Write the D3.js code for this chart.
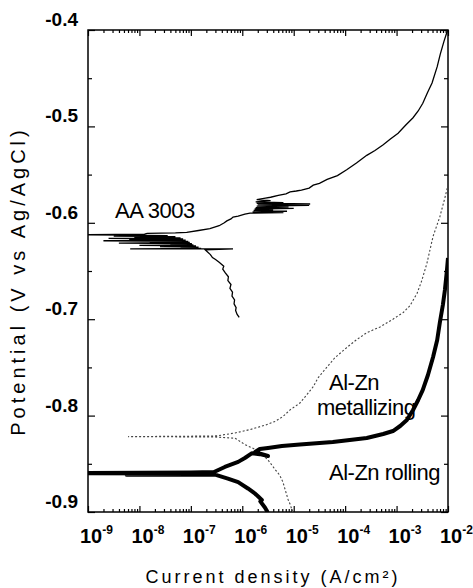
<!DOCTYPE html>
<html>
<head>
<meta charset="utf-8">
<script src="https://cdn.jsdelivr.net/npm/d3@7"></script>
<style>
  body { margin: 0; background: #fff; }
  text { font-family: "Liberation Sans", Arial, sans-serif; fill: #000; }
</style>
</head>
<body>
<div id="chart"></div>
<script>
// log10 of current density (A/cm2) and potential (V vs Ag/AgCl)
const aa3003 = [
  [-6.06, -0.698], [-6.10, -0.695], [-6.13, -0.691], [-6.12, -0.688], [-6.16, -0.684],
  [-6.15, -0.680], [-6.20, -0.676], [-6.19, -0.672], [-6.24, -0.668], [-6.22, -0.664],
  [-6.28, -0.660], [-6.27, -0.656], [-6.33, -0.652], [-6.38, -0.648], [-6.36, -0.645],
  [-6.45, -0.641], [-6.52, -0.638], [-6.58, -0.636], [-6.62, -0.633], [-6.68, -0.630],
  [-6.72, -0.628], [-6.18, -0.627], [-8.18, -0.627], [-6.80, -0.6265],
  [-7.20, -0.6258], [-6.85, -0.6252], [-7.60, -0.6246], [-6.90, -0.6240], [-8.00, -0.6234],
  [-6.95, -0.6228], [-7.40, -0.6222], [-6.98, -0.6216], [-8.40, -0.6210], [-7.02, -0.6204],
  [-7.80, -0.6198], [-7.05, -0.6192], [-8.70, -0.6186], [-7.10, -0.6180], [-8.20, -0.6174],
  [-7.15, -0.6168], [-8.60, -0.6162], [-7.20, -0.6156], [-8.10, -0.6150], [-7.30, -0.6144],
  [-8.50, -0.6138], [-7.45, -0.6132], [-8.30, -0.6128],
  [-9.50, -0.6125], [-7.90, -0.6118], [-7.85, -0.611], [-7.30, -0.6105], [-7.08, -0.610],
  [-6.85, -0.608], [-6.63, -0.606], [-6.45, -0.603], [-6.35, -0.600], [-6.30, -0.598],
  [-6.22, -0.596], [-6.18, -0.594], [-6.08, -0.593], [-5.95, -0.591],
  [-5.85, -0.5900], [-5.20, -0.5895], [-5.80, -0.5888], [-5.13, -0.5880], [-5.78, -0.5872],
  [-5.40, -0.5865], [-5.76, -0.5857], [-5.00, -0.5850], [-5.74, -0.5842], [-5.10, -0.5835],
  [-5.72, -0.5827], [-4.70, -0.5820], [-5.70, -0.5812], [-4.68, -0.5805], [-5.72, -0.5797],
  [-5.20, -0.5790], [-5.74, -0.5782], [-5.45, -0.5770], [-5.72, -0.5760], [-5.55, -0.5745],
  [-5.45, -0.5735], [-5.30, -0.5715], [-5.15, -0.570], [-5.07, -0.568], [-4.95, -0.567],
  [-4.85, -0.566], [-4.70, -0.564], [-4.62, -0.561], [-4.50, -0.559], [-4.35, -0.555],
  [-4.15, -0.551], [-3.97, -0.545], [-3.78, -0.538], [-3.58, -0.530], [-3.42, -0.525],
  [-3.26, -0.519], [-3.12, -0.513], [-2.97, -0.507], [-2.83, -0.499], [-2.68, -0.491],
  [-2.58, -0.484], [-2.49, -0.476], [-2.40, -0.465], [-2.31, -0.455], [-2.21, -0.438],
  [-2.15, -0.425], [-2.08, -0.412], [-2.02, -0.402], [-1.99, -0.398]
];

const alZnMetallizing = [
  [-5.02, -0.900], [-5.07, -0.892], [-5.11, -0.887], [-5.16, -0.878], [-5.21, -0.869],
  [-5.27, -0.862], [-5.36, -0.856], [-5.43, -0.851], [-5.50, -0.846], [-5.62, -0.840],
  [-5.75, -0.835], [-5.95, -0.830], [-6.14, -0.8235], [-6.53, -0.8222], [-8.22, -0.8218],
  [-6.60, -0.8212], [-6.49, -0.821], [-6.14, -0.818], [-5.85, -0.8145], [-5.56, -0.810],
  [-5.36, -0.806], [-5.21, -0.801], [-5.07, -0.794], [-4.88, -0.787], [-4.74, -0.778],
  [-4.62, -0.770], [-4.53, -0.761], [-4.39, -0.752], [-4.20, -0.740], [-3.96, -0.729],
  [-3.77, -0.721], [-3.58, -0.714], [-3.32, -0.708], [-3.07, -0.700], [-2.87, -0.693],
  [-2.74, -0.686], [-2.60, -0.673], [-2.51, -0.660], [-2.41, -0.642], [-2.29, -0.614],
  [-2.16, -0.594], [-2.06, -0.574], [-2.00, -0.561]
];

const alZnRolling = [
  [-5.50, -0.902], [-5.52, -0.899], [-5.56, -0.8953], [-5.60, -0.8925], [-5.65, -0.889],
  [-5.62, -0.8875], [-5.69, -0.884], [-5.75, -0.881], [-5.89, -0.8756], [-6.08, -0.869],
  [-6.28, -0.8653], [-6.53, -0.8613], [-8.25, -0.8614], [-6.90, -0.8606], [-8.25, -0.8604],
  [-6.90, -0.8600], [-9.50, -0.8596],
  [-7.00, -0.8590], [-6.55, -0.8585], [-6.34, -0.8533], [-6.08, -0.848], [-5.95, -0.844],
  [-5.81, -0.839], [-5.66, -0.840], [-5.50, -0.8419], [-5.75, -0.8378], [-5.66, -0.8347],
  [-5.50, -0.8336], [-5.23, -0.8315], [-4.88, -0.830], [-4.24, -0.8274], [-3.58, -0.8232],
  [-3.26, -0.8191], [-3.07, -0.816], [-2.93, -0.8108], [-2.80, -0.8046], [-2.68, -0.7942],
  [-2.58, -0.7838], [-2.49, -0.7734], [-2.39, -0.7579], [-2.29, -0.7392], [-2.21, -0.7216],
  [-2.16, -0.704], [-2.10, -0.6853], [-2.06, -0.6697], [-2.02, -0.649], [-2.00, -0.6365]
];

const xExponents = [-9, -8, -7, -6, -5, -4, -3, -2];
const yMajor = [-0.4, -0.5, -0.6, -0.7, -0.8, -0.9];
const yLabels = ['-0.4', '-0.5', '-0.6', '-0.7', '-0.8', '-0.9'];
const yMinor = [-0.45, -0.55, -0.65, -0.75, -0.85];

const width = 473, height = 588;
const plotLeft = 88, plotRight = 448, plotTop = 30, plotBottom = 512;

const svg = d3.select('#chart').append('svg')
  .attr('width', width)
  .attr('height', height);

const x = d3.scaleLog().domain([1e-9, 1e-2]).range([plotLeft, plotRight]);
const y = d3.scaleLinear().domain([-0.9, -0.4]).range([plotBottom, plotTop]);

svg.append('clipPath').attr('id', 'plot-clip')
  .append('rect')
  .attr('x', plotLeft).attr('y', plotTop)
  .attr('width', plotRight - plotLeft).attr('height', plotBottom - plotTop);

// ticks, all pointing inward
const allX = x.ticks();
const majorX = allX.filter(d => Math.abs(Math.log10(d) - Math.round(Math.log10(d))) < 1e-6);
const minorX = allX.filter(d => majorX.indexOf(d) < 0);

function tickGroup(axis, tx, ty) {
  const g = svg.append('g').attr('transform', `translate(${tx},${ty})`).call(axis);
  g.select('.domain').remove();
  g.selectAll('line').attr('stroke', '#000').attr('stroke-width', 1.2);
  g.selectAll('text').remove();
}
tickGroup(d3.axisBottom(x).tickValues(majorX).tickSize(-6).tickSizeOuter(0), 0, plotBottom);
tickGroup(d3.axisBottom(x).tickValues(minorX).tickSize(-3).tickSizeOuter(0), 0, plotBottom);
tickGroup(d3.axisTop(x).tickValues(majorX).tickSize(-6).tickSizeOuter(0), 0, plotTop);
tickGroup(d3.axisTop(x).tickValues(minorX).tickSize(-3).tickSizeOuter(0), 0, plotTop);
tickGroup(d3.axisLeft(y).tickValues(yMajor).tickSize(-7).tickSizeOuter(0), plotLeft, 0);
tickGroup(d3.axisLeft(y).tickValues(yMinor).tickSize(-4).tickSizeOuter(0), plotLeft, 0);
tickGroup(d3.axisRight(y).tickValues(yMajor).tickSize(-7).tickSizeOuter(0), plotRight, 0);
tickGroup(d3.axisRight(y).tickValues(yMinor).tickSize(-4).tickSizeOuter(0), plotRight, 0);

// frame
svg.append('rect')
  .attr('x', plotLeft).attr('y', plotTop)
  .attr('width', plotRight - plotLeft).attr('height', plotBottom - plotTop)
  .attr('fill', 'none').attr('stroke', '#000').attr('stroke-width', 1.5);

// curves
const line = d3.line()
  .x(d => x(Math.pow(10, d[0])))
  .y(d => y(d[1]));

const plot = svg.append('g').attr('clip-path', 'url(#plot-clip)');

plot.append('path').datum(alZnMetallizing)
  .attr('d', line)
  .attr('fill', 'none')
  .attr('stroke', '#444')
  .attr('stroke-width', 1.1)
  .attr('stroke-dasharray', '2,2');

plot.append('path').datum(alZnRolling)
  .attr('d', line)
  .attr('fill', 'none')
  .attr('stroke', '#000')
  .attr('stroke-width', 4)
  .attr('stroke-linejoin', 'round');

plot.append('path').datum(aa3003)
  .attr('d', line)
  .attr('fill', 'none')
  .attr('stroke', '#000')
  .attr('stroke-width', 1.3);

// tick labels
svg.selectAll('.ylab').data(yMajor).enter().append('text')
  .attr('class', 'ylab')
  .attr('x', 78)
  .attr('y', d => y(d) - 4)
  .attr('text-anchor', 'end')
  .attr('font-size', 19)
  .attr('font-weight', 'bold')
  .text((d, i) => yLabels[i]);

const xl = svg.selectAll('.xlab').data(xExponents).enter().append('text')
  .attr('class', 'xlab')
  .attr('x', d => x(Math.pow(10, d)) - 8)
  .attr('y', 543)
  .attr('font-size', 20)
  .attr('font-weight', 'bold');
xl.append('tspan').text('10');
xl.append('tspan')
  .attr('font-size', 12)
  .attr('dy', -9)
  .text(d => d);

// axis titles
svg.append('text')
  .attr('transform', 'translate(25,281) rotate(-90)')
  .attr('text-anchor', 'middle')
  .attr('font-size', 20)
  .attr('letter-spacing', 4)
  .text('Potential (V vs Ag/AgCl)');

svg.append('text')
  .attr('x', 273)
  .attr('y', 583)
  .attr('text-anchor', 'middle')
  .attr('font-size', 18)
  .attr('letter-spacing', 3)
  .text('Current density (A/cm²)');

// curve annotations
const notes = [
  { text: 'AA 3003', x: 115, y: 218 },
  { text: 'Al-Zn', x: 329, y: 390 },
  { text: 'metallizing', x: 317, y: 415 },
  { text: 'Al-Zn rolling', x: 329, y: 480 }
];
svg.selectAll('.note').data(notes).enter().append('text')
  .attr('class', 'note')
  .attr('x', d => d.x)
  .attr('y', d => d.y)
  .attr('font-size', 22)
  .attr('letter-spacing', -0.5)
  .text(d => d.text);
</script>
</body>
</html>
